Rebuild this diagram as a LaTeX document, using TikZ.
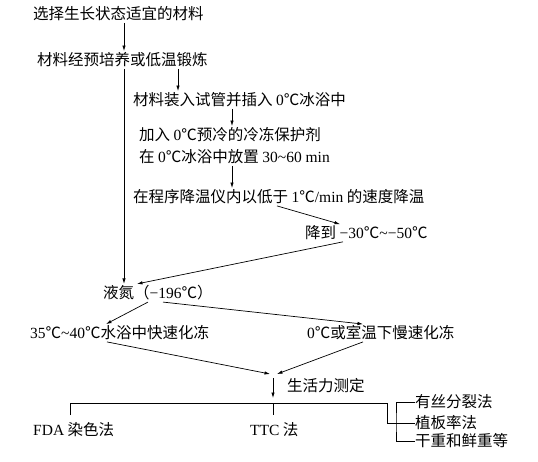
\documentclass[tikz,border=0pt]{standalone}
\usepackage{fontspec}
\setmainfont{Noto Sans CJK SC}
\newfontfamily\lat{Liberation Serif}
\usetikzlibrary{arrows.meta,calc}

\begin{document}
\begin{tikzpicture}[
  x=1pt, y=-1pt,
  font=\fontsize{15.5}{18}\selectfont,
  >=Stealth,
  txt/.style={anchor=west, inner xsep=0pt, inner ysep=1.5pt},
  arr/.style={-{Latex[length=5.5pt,width=3.4pt]}, line width=0.7pt},
  ln/.style={line width=0.6pt},
]
  \useasboundingbox (0,0) rectangle (538,462);

  % steps of the freezing procedure
  \node[txt] (pick)  at (33,14)  {选择生长状态适宜的材料};
  \node[txt] (pre)   at (37,60)  {材料经预培养或低温锻炼};
  \node[txt] (tube)  at (133,100) {材料装入试管并插入 {\lat 0}℃冰浴中};
  \node[txt] (cpa)   at (139,135) {加入 {\lat 0}℃预冷的冷冻保护剂};
  \node[txt] (ice)   at (139,157) {在 {\lat 0}℃冰浴中放置 {\lat 30\char`~60 min}};
  \node[txt] (prog)  at (133,197) {在程序降温仪内以低于 {\lat 1}℃{\lat /min} 的速度降温};
  \node[txt] (down)  at (305,233) {降到 {\lat \char"2212 30}℃{\lat \char`~\char"2212 50}℃};
  \node[txt] (ln2)   at (103,293) {液氮（{\lat \char"2212 196}℃）};
  \node[txt] (fast)  at (30,333)  {{\lat 35}℃{\lat \char`~40}℃水浴中快速化冻};
  \node[txt] (slow)  at (307,333) {{\lat 0}℃或室温下慢速化冻};
  \node[txt] (via)   at (287,386) {生活力测定};

  % viability tests
  \node[txt] (fda)   at (33,430)  {{\lat FDA} 染色法};
  \node[txt] (ttc)   at (250,430) {{\lat TTC} 法};
  \node[txt] (mit)   at (415,402) {有丝分裂法};
  \node[txt] (plate) at (415,423) {植板率法};
  \node[txt] (dry)   at (415,441) {干重和鲜重等};

  \coordinate (ja) at (270,374);
  \coordinate (jb) at (277,374);
  \coordinate (jc) at (273,378);
  \coordinate (jd) at (273,398);

  \draw[arr] (pick.south -| 124,0) -- (pre.north -| 124,0);
  \draw[arr] (pre.south -| 124,0) -- (ln2.north -| 124,0);
  \draw[arr] (pre.south -| 178,0) -- (tube.north -| 178,0);
  \draw[arr] (tube.south -| 232,0) -- (cpa.north -| 232,0);
  \draw[arr] (ice.south -| 232,0) -- (prog.north -| 232,0);
  \draw[arr] (prog.south -| 277,0) -- (down.north -| 340,0);
  \draw[arr] (down.south -| 343,0) -- (ln2.north -| 137,0);
  \draw[arr] (ln2.south -| 148,0) -- (fast.north -| 106,0);
  \draw[arr] (ln2.south -| 163,0) -- (slow.north -| 363,0);
  \draw[arr] (fast.south -| 107,0) -- (ja);
  \draw[arr] (slow.south -| 363,0) -- (jb);
  \draw[arr] (jc) -- (jd);

  \draw[ln] (70,415) -- (70,403) -- (387,403) -- (387,423) -- (plate.west);
  \draw[ln] (273,403) -- (273,415);
  \draw[ln] (mit.west) -| (396,423) |- (dry.west);
\end{tikzpicture}
\end{document}
